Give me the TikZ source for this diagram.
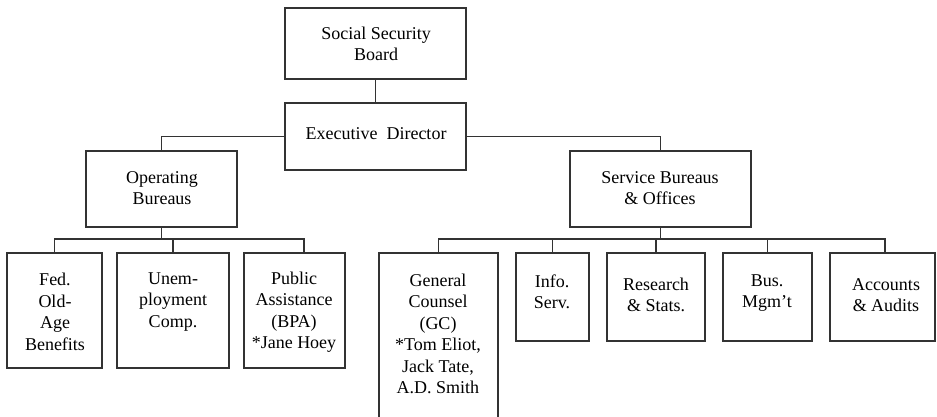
\documentclass[tikz,border=0pt]{standalone}
\usepackage{fontspec}
\setmainfont{Liberation Serif}
\definecolor{ink}{HTML}{333333}
\begin{document}
\begin{tikzpicture}[x=1pt,y=-1pt,
  box/.style={draw=ink,line width=1.2pt,inner sep=0pt,rectangle},
  lbl/.style={align=center,inner sep=0pt,font=\fontsize{18}{21.5}\selectfont,text=black},
  conn/.style={draw=ink,line width=1.2pt}]
\useasboundingbox (0,0) rectangle (937,416);
\begin{scope}
\clip (0,0) rectangle (937,416);
% boxes
\node[box,minimum width=181,minimum height=71] (ssb) at (375.5,43.5) {};
\node[box,minimum width=181,minimum height=67] (ed) at (375.5,136.5) {};
\node[box,minimum width=151,minimum height=76] (ob) at (161.5,189) {};
\node[box,minimum width=181,minimum height=76] (sb) at (660.5,189) {};
\node[box,minimum width=95,minimum height=115] (fed) at (54.5,310.5) {};
\node[box,minimum width=112,minimum height=115] (une) at (173,310.5) {};
\node[box,minimum width=101,minimum height=115] (pub) at (294.5,310.5) {};
\node[box,minimum width=119,minimum height=170] (gc) at (438.5,338) {};
\node[box,minimum width=73,minimum height=88] (info) at (552.5,297) {};
\node[box,minimum width=98,minimum height=88] (res) at (656,297) {};
\node[box,minimum width=89,minimum height=88] (bus) at (767.5,297) {};
\node[box,minimum width=105,minimum height=88] (acc) at (882.5,297) {};
% labels
\node[lbl] (ssbT) at (376,44) {Social Security\\Board};
\node[lbl] (edT) at (376,134) {Executive\ \ Director};
\node[lbl] (obT) at (162,188) {Operating\\Bureaus};
\node[lbl] (sbT) at (660,188) {Service Bureaus\\\& Offices};
\node[lbl] (fedT) at (55,312) {Fed.\\Old-\\Age\\Benefits};
\node[lbl] (uneT) at (173,302) {Unem-\\ployment\\Comp.};
\node[lbl] (pubT) at (294,312) {Public\\Assistance\\(BPA)\\*Jane Hoey};
\node[lbl] (gcT) at (438,334) {General\\Counsel\\(GC)\\*Tom Eliot,\\Jack Tate,\\A.D. Smith};
\node[lbl] (infoT) at (552,292) {Info.\\Serv.};
\node[lbl] (resT) at (656,295) {Research\\\& Stats.};
\node[lbl] (busT) at (767,293) {Bus.\\Mgm’t};
\node[lbl] (accT) at (886,295) {Accounts\\\& Audits};
% connectors
\coordinate (lvl) at (0,239);
\coordinate (pubtop) at ([xshift=9.5pt]pub.north);
\coordinate (acctop) at ([xshift=2.5pt]acc.north);
\draw[conn] (ssb.south) -- (ed.north);
\draw[conn] (ed.west) -| (ob.north);
\draw[conn] (ed.east) -| (sb.north);
\draw[conn] (ob.south) -- (ob.south |- lvl);
\draw[conn] (fed.north) |- (pubtop |- lvl) -- (pubtop);
\draw[conn] (une.north) -- (une.north |- lvl);
\draw[conn] (sb.south) -- (sb.south |- lvl);
\draw[conn] (gc.north) |- (acctop |- lvl) -- (acctop);
\draw[conn] (info.north) -- (info.north |- lvl);
\draw[conn] (res.north) -- (res.north |- lvl);
\draw[conn] (bus.north) -- (bus.north |- lvl);
\end{scope}
\end{tikzpicture}
\end{document}
